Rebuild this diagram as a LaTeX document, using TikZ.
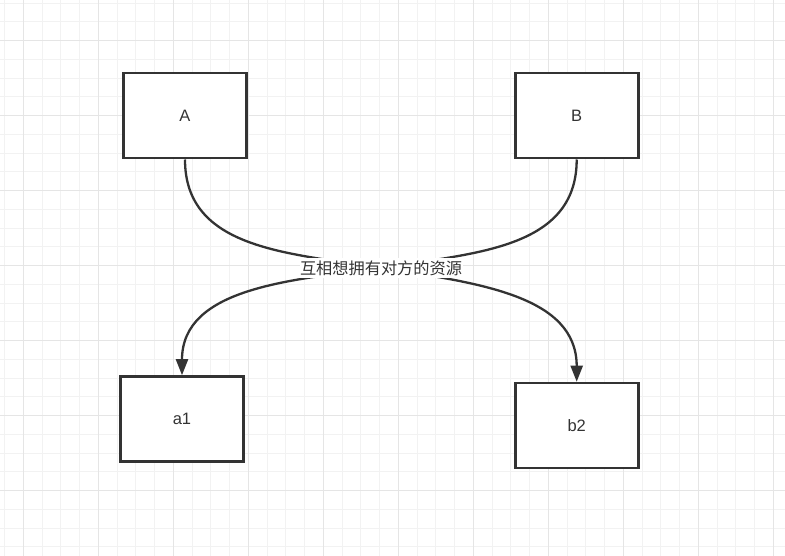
\documentclass[tikz,border=0pt]{standalone}
\usepackage{fontspec}
\setmainfont{Liberation Sans}
\newfontfamily\cjk{Noto Sans CJK SC}
\usetikzlibrary{arrows.meta}
\definecolor{ink}{HTML}{333333}
\definecolor{gridminor}{HTML}{F2F2F2}
\definecolor{gridmajor}{HTML}{E5E5E5}
\tikzset{
  boxnode/.style={draw=ink, line width=2.6pt, fill=white, minimum width=123pt, minimum height=85pt, inner sep=0pt, text=ink, font=\fontsize{16.5pt}{18pt}\selectfont},
  edge/.style={draw=ink, line width=2.3pt},
  arrowedge/.style={edge, -{Triangle[length=16pt,width=12pt]}},
  lbl/.style={fill=white, inner xsep=0.5pt, inner ysep=2pt, text=ink, font=\cjk\fontsize{16.2pt}{18pt}\selectfont},
  minorline/.style={draw=gridminor, line width=1pt},
  majorline/.style={draw=gridmajor, line width=1pt}
}
\begin{document}
\begin{tikzpicture}[x=1pt, y=-1pt]
\useasboundingbox (0,0) rectangle (785,556);
\fill[white] (0,0) rectangle (785,556);
% grid
\foreach \k in {0,...,41} {
  \pgfmathsetmacro{\gx}{4.55+18.75*\k}
  \draw[minorline] (\gx,0) -- (\gx,556);
}
\foreach \k in {0,...,29} {
  \pgfmathsetmacro{\gy}{3.2+18.75*\k}
  \draw[minorline] (0,\gy) -- (785,\gy);
}
\foreach \k in {0,...,10} {
  \pgfmathsetmacro{\gx}{23.3+75*\k}
  \draw[majorline] (\gx,0) -- (\gx,556);
}
\foreach \k in {0,...,7} {
  \pgfmathsetmacro{\gy}{40.7+75*\k}
  \draw[majorline] (0,\gy) -- (785,\gy);
}
% boxes
\node[boxnode] (A) at (185,115.7) {A};
\node[boxnode] (B) at (576.7,115.7) {B};
\node[boxnode] (a1) at (182,419) {a1};
\node[boxnode] (b2) at (576.7,425.5) {b2};
\coordinate (m) at (381,268);
% edges
\draw[edge] (A.south) .. controls (185,250) and (290,253) .. (m);
\draw[edge] (B.south) .. controls (576.7,250) and (472,253) .. (m);
\draw[arrowedge] (m) .. controls (290,280) and (182,288) .. (a1.north);
\draw[arrowedge] (m) .. controls (480,283) and (576.7,296) .. (b2.north);
\node[lbl] (L) at (m) {互相想拥有对方的资源};
\end{tikzpicture}
\end{document}
